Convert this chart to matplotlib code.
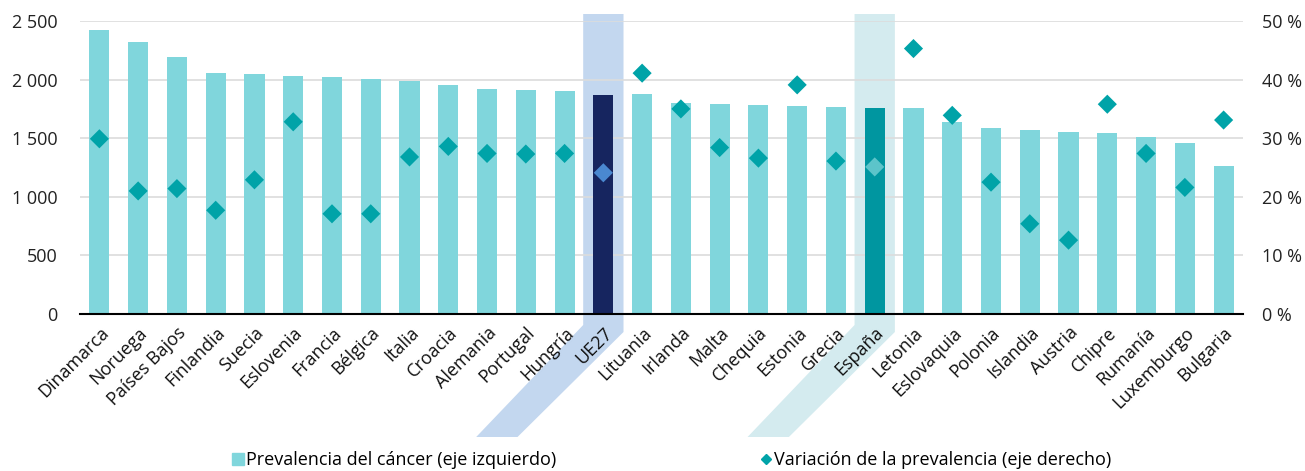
import matplotlib.pyplot as plt
import matplotlib
from matplotlib.lines import Line2D
from matplotlib.patches import Polygon
from matplotlib.ticker import FuncFormatter, MultipleLocator
import numpy as np

matplotlib.rc("font", family=["Open Sans", "DejaVu Sans"], size=13)

####################################################
# Data

paises = [
    "Dinamarca", "Noruega", "Países Bajos", "Finlandia", "Suecia", "Eslovenia",
    "Francia", "Bélgica", "Italia", "Croacia", "Alemania", "Portugal", "Hungría",
    "UE27", "Lituania", "Irlanda", "Malta", "Chequia", "Estonia", "Grecia",
    "España", "Letonia", "Eslovaquia", "Polonia", "Islandia", "Austria", "Chipre",
    "Rumanía", "Luxemburgo", "Bulgaria",
]
prevalencia = [
    2423, 2321, 2190, 2056, 2048, 2034, 2025, 2005, 1985, 1951, 1923, 1911, 1903,
    1869, 1874, 1797, 1795, 1780, 1778, 1766, 1758, 1760, 1638, 1584, 1567, 1550,
    1541, 1510, 1456, 1266,
]
variacion = [
    29.9, 21.0, 21.4, 17.7, 22.9, 32.8, 17.1, 17.1, 26.8, 28.6, 27.4, 27.3, 27.4,
    24.1, 41.1, 35.0, 28.4, 26.6, 39.1, 26.1, 25.1, 45.3, 33.9, 22.5, 15.4, 12.6,
    35.8, 27.4, 21.6, 33.1,
]

c_bar = "#80D6DC"
c_diamond = "#00A3A8"
highlight = {
    "UE27": {"bar": "#16255F", "diamond": "#4A88D0", "band": "#C3D7EF"},
    "España": {"bar": "#0096A0", "diamond": "#5CC4CA", "band": "#D4EBEF"},
}

####################################################
# Figure

fig = plt.figure(figsize=(13.05, 4.71), dpi=100)
fig.subplots_adjust(left=80 / 1305, right=1243 / 1305, bottom=1 - 314 / 471, top=1 - 21 / 471)
ax = fig.add_subplot(111)
ax2 = ax.twinx()

x = np.arange(len(paises))
bar_colors = [highlight[p]["bar"] if p in highlight else c_bar for p in paises]
dia_colors = [highlight[p]["diamond"] if p in highlight else c_diamond for p in paises]

ax.bar(x, prevalencia, width=0.52, color=bar_colors, zorder=2)
ax2.scatter(x, variacion, marker="D", s=95, color=dia_colors, zorder=3, linewidths=0)

ax.set_xlim(-0.5, len(paises) - 0.5)
ax.set_ylim(0, 2500)
ax2.set_ylim(0, 50)
ax.yaxis.set_major_locator(MultipleLocator(500))
ax2.yaxis.set_major_locator(MultipleLocator(10))
ax.yaxis.set_major_formatter(FuncFormatter(lambda v, p: f"{int(v):,}".replace(",", " ")))
ax2.yaxis.set_major_formatter(FuncFormatter(lambda v, p: f"{int(v)} %"))

ax.grid(axis="y", color="#DCDCDC", lw=1.2, zorder=0)
ax.set_axisbelow(True)
for a in (ax, ax2):
    a.set_facecolor("none")
    for s in ("left", "right", "top", "bottom"):
        a.spines[s].set_visible(False)
ax.spines["bottom"].set_visible(True)
ax.spines["bottom"].set_color("black")
ax.spines["bottom"].set_linewidth(1.5)
ax.spines["bottom"].set_zorder(4)

ax.tick_params(axis="y", length=0, pad=16, labelsize=13, colors="#222222")
ax2.tick_params(axis="y", length=0, pad=14, labelsize=13, colors="#222222")
ax.set_xticks(x)
ax.set_xticklabels(paises, rotation=45, ha="right", va="top", rotation_mode="anchor", color="#111111")
ax.tick_params(axis="x", length=0, pad=7, labelsize=13)

####################################################
# Highlight bands (vertical column + slanted tail below the labels)

H = 471
y_axis = H - 314
for p, col in highlight.items():
    i = paises.index(p)
    xl = ax.transData.transform((i - 0.52, 0))[0]
    xr = ax.transData.transform((i + 0.52, 0))[0]
    pts = [
        (xl, H - 14), (xr, H - 14),
        (xr, y_axis - 18), (xr - 106, H - 437),
        (xl - 107, H - 437), (xl, y_axis - 11),
    ]
    pts = fig.transFigure.inverted().transform(pts)
    fig.patches.append(Polygon(pts, closed=True, transform=fig.transFigure,
                               facecolor=col["band"], edgecolor="none", zorder=-1))

####################################################
# Legend

handles = [
    Line2D([], [], marker="s", ls="", color=c_bar, markersize=8.5),
    Line2D([], [], marker="D", ls="", color=c_diamond, markersize=5),
]
fig.legend(handles, ["Prevalencia del cáncer (eje izquierdo)", "Variación de la prevalencia (eje derecho)"],
           loc="center", bbox_to_anchor=(672 / 1305, 1 - 460 / 471), ncol=2, frameon=False,
           fontsize=13, handlelength=0.6, handletextpad=0.15, columnspacing=11.3)

fig.savefig("out.png", dpi=100)
